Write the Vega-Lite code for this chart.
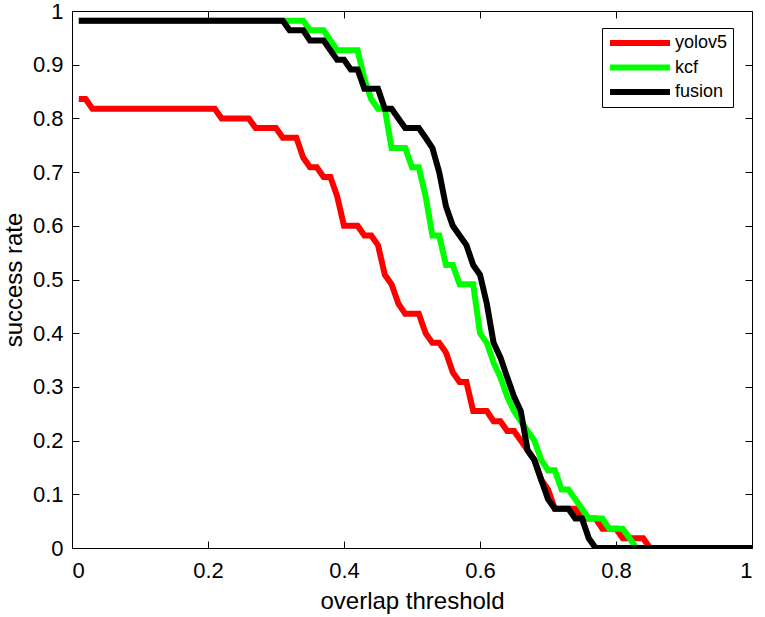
{
  "$schema": "https://vega.github.io/schema/vega-lite/v6.json",
  "width": 680,
  "height": 537,
  "autosize": "none",
  "padding": {"left": 72, "top": 11, "right": 13, "bottom": 69},
  "background": "white",
  "config": {
    "view": {"stroke": "black", "strokeWidth": 1},
    "font": "Liberation Sans",
    "axis": {
      "grid": false,
      "domainColor": "black",
      "tickColor": "black",
      "labelColor": "black",
      "titleColor": "black",
      "labelFont": "Liberation Sans",
      "titleFont": "Liberation Sans",
      "labelFontSize": 22,
      "titleFontSize": 24,
      "titleFontWeight": "normal",
      "tickSize": -7
    }
  },
  "data": {
    "values": [
      {"series": "yolov5", "x": 0.01, "y": 0.836},
      {"series": "yolov5", "x": 0.02, "y": 0.836},
      {"series": "yolov5", "x": 0.03, "y": 0.818},
      {"series": "yolov5", "x": 0.21, "y": 0.818},
      {"series": "yolov5", "x": 0.22, "y": 0.800},
      {"series": "yolov5", "x": 0.26, "y": 0.800},
      {"series": "yolov5", "x": 0.27, "y": 0.782},
      {"series": "yolov5", "x": 0.30, "y": 0.782},
      {"series": "yolov5", "x": 0.31, "y": 0.764},
      {"series": "yolov5", "x": 0.33, "y": 0.764},
      {"series": "yolov5", "x": 0.34, "y": 0.727},
      {"series": "yolov5", "x": 0.35, "y": 0.709},
      {"series": "yolov5", "x": 0.36, "y": 0.709},
      {"series": "yolov5", "x": 0.37, "y": 0.691},
      {"series": "yolov5", "x": 0.38, "y": 0.691},
      {"series": "yolov5", "x": 0.39, "y": 0.655},
      {"series": "yolov5", "x": 0.40, "y": 0.600},
      {"series": "yolov5", "x": 0.42, "y": 0.600},
      {"series": "yolov5", "x": 0.43, "y": 0.582},
      {"series": "yolov5", "x": 0.44, "y": 0.582},
      {"series": "yolov5", "x": 0.45, "y": 0.564},
      {"series": "yolov5", "x": 0.46, "y": 0.509},
      {"series": "yolov5", "x": 0.47, "y": 0.491},
      {"series": "yolov5", "x": 0.48, "y": 0.455},
      {"series": "yolov5", "x": 0.49, "y": 0.436},
      {"series": "yolov5", "x": 0.51, "y": 0.436},
      {"series": "yolov5", "x": 0.52, "y": 0.400},
      {"series": "yolov5", "x": 0.53, "y": 0.382},
      {"series": "yolov5", "x": 0.54, "y": 0.382},
      {"series": "yolov5", "x": 0.55, "y": 0.364},
      {"series": "yolov5", "x": 0.56, "y": 0.327},
      {"series": "yolov5", "x": 0.57, "y": 0.309},
      {"series": "yolov5", "x": 0.58, "y": 0.309},
      {"series": "yolov5", "x": 0.59, "y": 0.255},
      {"series": "yolov5", "x": 0.61, "y": 0.255},
      {"series": "yolov5", "x": 0.62, "y": 0.236},
      {"series": "yolov5", "x": 0.63, "y": 0.236},
      {"series": "yolov5", "x": 0.64, "y": 0.218},
      {"series": "yolov5", "x": 0.65, "y": 0.218},
      {"series": "yolov5", "x": 0.66, "y": 0.200},
      {"series": "yolov5", "x": 0.67, "y": 0.182},
      {"series": "yolov5", "x": 0.68, "y": 0.164},
      {"series": "yolov5", "x": 0.69, "y": 0.127},
      {"series": "yolov5", "x": 0.70, "y": 0.109},
      {"series": "yolov5", "x": 0.71, "y": 0.073},
      {"series": "yolov5", "x": 0.74, "y": 0.073},
      {"series": "yolov5", "x": 0.75, "y": 0.055},
      {"series": "yolov5", "x": 0.77, "y": 0.055},
      {"series": "yolov5", "x": 0.78, "y": 0.036},
      {"series": "yolov5", "x": 0.80, "y": 0.036},
      {"series": "yolov5", "x": 0.81, "y": 0.018},
      {"series": "yolov5", "x": 0.84, "y": 0.018},
      {"series": "yolov5", "x": 0.85, "y": 0},
      {"series": "yolov5", "x": 1.00, "y": 0},

      {"series": "kcf", "x": 0.01, "y": 0.982},
      {"series": "kcf", "x": 0.34, "y": 0.982},
      {"series": "kcf", "x": 0.35, "y": 0.964},
      {"series": "kcf", "x": 0.37, "y": 0.964},
      {"series": "kcf", "x": 0.38, "y": 0.945},
      {"series": "kcf", "x": 0.39, "y": 0.927},
      {"series": "kcf", "x": 0.42, "y": 0.927},
      {"series": "kcf", "x": 0.43, "y": 0.873},
      {"series": "kcf", "x": 0.44, "y": 0.836},
      {"series": "kcf", "x": 0.45, "y": 0.818},
      {"series": "kcf", "x": 0.46, "y": 0.818},
      {"series": "kcf", "x": 0.47, "y": 0.745},
      {"series": "kcf", "x": 0.49, "y": 0.745},
      {"series": "kcf", "x": 0.50, "y": 0.709},
      {"series": "kcf", "x": 0.51, "y": 0.709},
      {"series": "kcf", "x": 0.52, "y": 0.655},
      {"series": "kcf", "x": 0.53, "y": 0.582},
      {"series": "kcf", "x": 0.54, "y": 0.582},
      {"series": "kcf", "x": 0.55, "y": 0.527},
      {"series": "kcf", "x": 0.56, "y": 0.527},
      {"series": "kcf", "x": 0.57, "y": 0.491},
      {"series": "kcf", "x": 0.59, "y": 0.491},
      {"series": "kcf", "x": 0.60, "y": 0.400},
      {"series": "kcf", "x": 0.61, "y": 0.382},
      {"series": "kcf", "x": 0.62, "y": 0.345},
      {"series": "kcf", "x": 0.63, "y": 0.318},
      {"series": "kcf", "x": 0.64, "y": 0.282},
      {"series": "kcf", "x": 0.65, "y": 0.255},
      {"series": "kcf", "x": 0.66, "y": 0.236},
      {"series": "kcf", "x": 0.67, "y": 0.218},
      {"series": "kcf", "x": 0.68, "y": 0.200},
      {"series": "kcf", "x": 0.69, "y": 0.164},
      {"series": "kcf", "x": 0.70, "y": 0.145},
      {"series": "kcf", "x": 0.71, "y": 0.145},
      {"series": "kcf", "x": 0.72, "y": 0.109},
      {"series": "kcf", "x": 0.73, "y": 0.109},
      {"series": "kcf", "x": 0.74, "y": 0.091},
      {"series": "kcf", "x": 0.75, "y": 0.073},
      {"series": "kcf", "x": 0.76, "y": 0.055},
      {"series": "kcf", "x": 0.78, "y": 0.055},
      {"series": "kcf", "x": 0.79, "y": 0.036},
      {"series": "kcf", "x": 0.81, "y": 0.036},
      {"series": "kcf", "x": 0.82, "y": 0.018},
      {"series": "kcf", "x": 0.83, "y": 0},
      {"series": "kcf", "x": 1.00, "y": 0},

      {"series": "fusion", "x": 0.01, "y": 0.982},
      {"series": "fusion", "x": 0.31, "y": 0.982},
      {"series": "fusion", "x": 0.32, "y": 0.964},
      {"series": "fusion", "x": 0.34, "y": 0.964},
      {"series": "fusion", "x": 0.35, "y": 0.945},
      {"series": "fusion", "x": 0.37, "y": 0.945},
      {"series": "fusion", "x": 0.38, "y": 0.927},
      {"series": "fusion", "x": 0.39, "y": 0.909},
      {"series": "fusion", "x": 0.40, "y": 0.909},
      {"series": "fusion", "x": 0.41, "y": 0.891},
      {"series": "fusion", "x": 0.42, "y": 0.891},
      {"series": "fusion", "x": 0.43, "y": 0.855},
      {"series": "fusion", "x": 0.45, "y": 0.855},
      {"series": "fusion", "x": 0.46, "y": 0.818},
      {"series": "fusion", "x": 0.47, "y": 0.818},
      {"series": "fusion", "x": 0.48, "y": 0.800},
      {"series": "fusion", "x": 0.49, "y": 0.782},
      {"series": "fusion", "x": 0.51, "y": 0.782},
      {"series": "fusion", "x": 0.52, "y": 0.764},
      {"series": "fusion", "x": 0.53, "y": 0.745},
      {"series": "fusion", "x": 0.54, "y": 0.700},
      {"series": "fusion", "x": 0.55, "y": 0.636},
      {"series": "fusion", "x": 0.56, "y": 0.600},
      {"series": "fusion", "x": 0.57, "y": 0.582},
      {"series": "fusion", "x": 0.58, "y": 0.564},
      {"series": "fusion", "x": 0.59, "y": 0.527},
      {"series": "fusion", "x": 0.60, "y": 0.509},
      {"series": "fusion", "x": 0.61, "y": 0.455},
      {"series": "fusion", "x": 0.62, "y": 0.382},
      {"series": "fusion", "x": 0.63, "y": 0.355},
      {"series": "fusion", "x": 0.64, "y": 0.318},
      {"series": "fusion", "x": 0.65, "y": 0.282},
      {"series": "fusion", "x": 0.66, "y": 0.255},
      {"series": "fusion", "x": 0.67, "y": 0.182},
      {"series": "fusion", "x": 0.68, "y": 0.164},
      {"series": "fusion", "x": 0.69, "y": 0.127},
      {"series": "fusion", "x": 0.70, "y": 0.091},
      {"series": "fusion", "x": 0.71, "y": 0.073},
      {"series": "fusion", "x": 0.73, "y": 0.073},
      {"series": "fusion", "x": 0.74, "y": 0.055},
      {"series": "fusion", "x": 0.75, "y": 0.055},
      {"series": "fusion", "x": 0.76, "y": 0.018},
      {"series": "fusion", "x": 0.77, "y": 0},
      {"series": "fusion", "x": 1.00, "y": 0}
    ]
  },
  "layer": [
    {
      "mark": {"type": "line", "strokeWidth": 6, "strokeJoin": "miter", "strokeCap": "butt", "clip": true},
      "encoding": {
        "x": {
          "field": "x", "type": "quantitative",
          "scale": {"domain": [0, 1], "nice": false, "zero": false},
          "axis": {"title": "overlap threshold", "values": [0, 0.2, 0.4, 0.6, 0.8, 1], "format": "~g", "labelPadding": 19, "titlePadding": 8}
        },
        "y": {
          "field": "y", "type": "quantitative",
          "scale": {"domain": [0, 1], "nice": false, "zero": false},
          "axis": {"title": "success rate", "values": [0, 0.1, 0.2, 0.3, 0.4, 0.5, 0.6, 0.7, 0.8, 0.9, 1], "format": "~g", "labelPadding": 16, "titlePadding": 6}
        },
        "color": {
          "field": "series", "type": "nominal",
          "scale": {"domain": ["yolov5", "kcf", "fusion"], "range": ["#ff0000", "#00ff00", "#000000"]},
          "legend": {
            "title": null,
            "orient": "none",
            "legendX": 530,
            "legendY": 17,
            "symbolType": "stroke",
            "symbolStrokeWidth": 6,
            "symbolSize": 3600,
            "clipHeight": 20,
            "labelFontSize": 18,
            "labelFont": "Liberation Sans",
            "labelColor": "black",
            "fillColor": "white",
            "strokeColor": "black",
            "padding": 5,
            "rowPadding": 4.5,
            "labelOffset": 2
          }
        },
        "order": {"field": "x", "type": "quantitative"}
      }
    },
    {
      "mark": {"type": "line", "opacity": 0},
      "encoding": {
        "x": {
          "field": "x", "type": "quantitative",
          "axis": {"orient": "top", "title": null, "labels": false, "values": [0, 0.2, 0.4, 0.6, 0.8, 1]}
        },
        "y": {
          "field": "y", "type": "quantitative",
          "axis": {"orient": "right", "title": null, "labels": false, "values": [0, 0.1, 0.2, 0.3, 0.4, 0.5, 0.6, 0.7, 0.8, 0.9, 1]}
        },
        "detail": {"field": "series"}
      }
    }
  ],
  "resolve": {"axis": {"x": "independent", "y": "independent"}}
}
